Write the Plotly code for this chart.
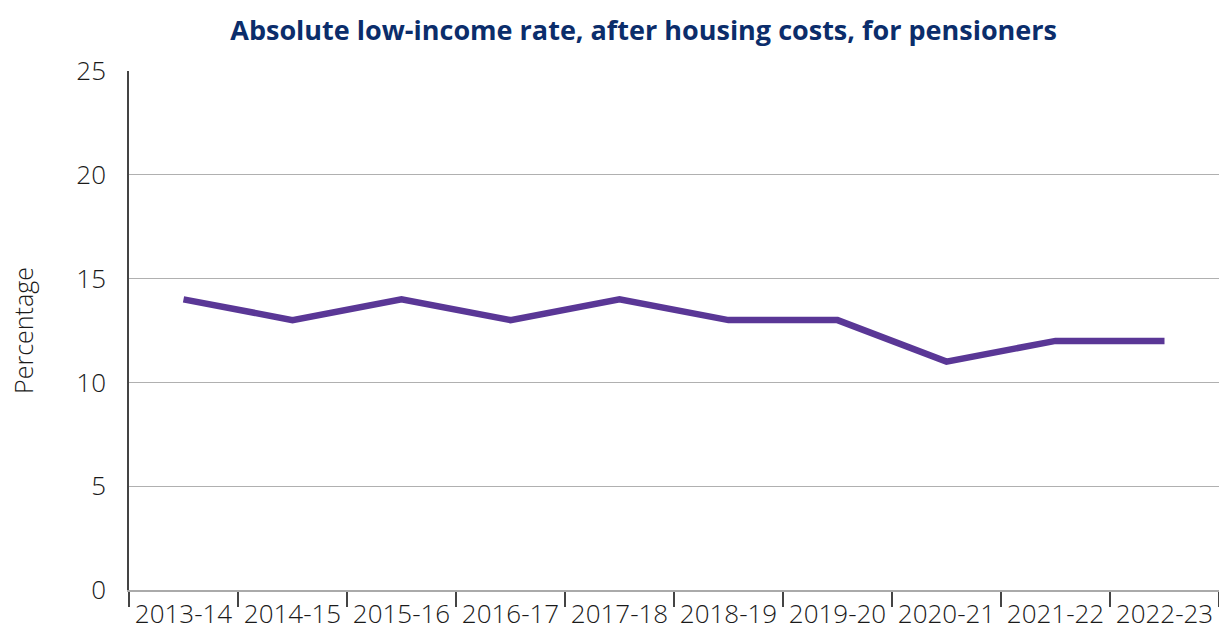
import plotly.graph_objects as go

# data
years = ["2013-14", "2014-15", "2015-16", "2016-17", "2017-18",
         "2018-19", "2019-20", "2020-21", "2021-22", "2022-23"]
rate = [14, 13, 14, 13, 14, 13, 13, 11, 12, 12]

fig = go.Figure()
fig.add_trace(go.Scatter(
    x=years, y=rate, mode="lines",
    line=dict(color="#5a3796", width=6.5),
    hoverinfo="x+y",
))

fig.update_layout(
    width=1219, height=631,
    margin=dict(l=129, r=0, t=71, b=39),
    paper_bgcolor="white", plot_bgcolor="white",
    font=dict(family="Open Sans, Noto Sans, sans-serif", color="#222", size=26),
    title=dict(
        text="<b>Absolute low-income rate, after housing costs, for pensioners</b>",
        x=0.528, xanchor="center", y=0.952, yanchor="middle",
        font=dict(size=27, color="#0b2d6b"),
    ),
    showlegend=False,
)

fig.update_xaxes(
    type="category", range=[-0.5, 9.5],
    tickson="boundaries", ticks="outside", ticklen=15,
    tickcolor="#444", tickwidth=1.5,
    showgrid=False, showline=True, linecolor="#aaaaaa", linewidth=1.5,
    tickfont=dict(size=26, color="#1a1a1a", weight=300),
)
fig.update_yaxes(
    range=[0, 25], tickvals=[0, 5, 10, 15, 20, 25],
    showgrid=True, gridcolor="#b0b0b0", gridwidth=1,
    zeroline=False,
    showline=True, linecolor="#444", linewidth=1.5,
    ticks="", ticklabelstandoff=16,
    tickfont=dict(size=26, color="#1a1a1a", weight=300),
    title=dict(text="Percentage", standoff=36,
               font=dict(size=25, color="#1a1a1a", weight=300)),
)

# drop the default page margin so the figure sits at the window origin
fig.write_html("out.html", config={"displayModeBar": False},
               post_script="document.body.style.margin='0';")
